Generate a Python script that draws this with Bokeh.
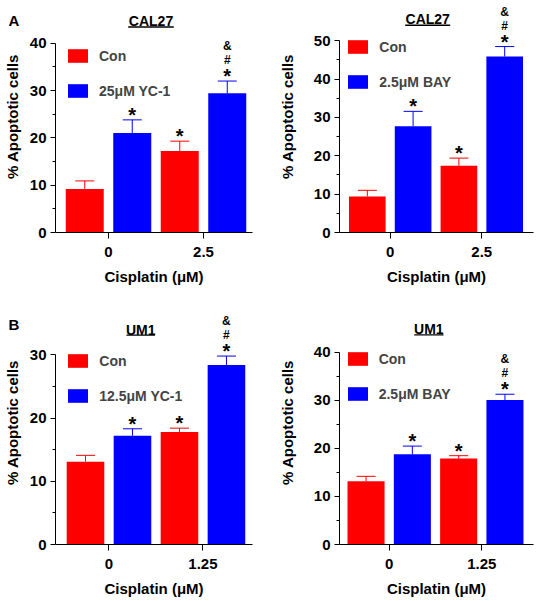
import numpy as np
from bokeh.plotting import figure
from bokeh.models import Range1d, FixedTicker, Label, Whisker, TeeHead, ColumnDataSource
from bokeh.layouts import gridplot
from bokeh.embed import file_html
from bokeh.resources import INLINE
from bokeh.core.properties import value

FONT = "Liberation Sans"
RED = "#FF0000"
BLUE = "#0000FF"

# ---------------- data ----------------
dose_cal = ["0", "2.5"]
dose_um = ["0", "1.25"]
x_title = "Cisplatin (μM)"
y_title = "% Apoptotic cells"

# A-left: CAL27 with YC-1
a1_con = [9.2, 17.2]
a1_con_sem = [1.7, 2.1]
a1_trt = [21.0, 29.4]
a1_trt_sem = [2.8, 2.6]
# A-right: CAL27 with BAY
a2_con = [9.4, 17.4]
a2_con_sem = [1.6, 2.0]
a2_trt = [27.7, 45.9]
a2_trt_sem = [3.9, 2.6]
# B-left: UM1 with YC-1
b1_con = [13.1, 17.8]
b1_con_sem = [1.0, 0.6]
b1_trt = [17.2, 28.4]
b1_trt_sem = [1.1, 1.4]
# B-right: UM1 with BAY
b2_con = [13.2, 17.9]
b2_con_sem = [1.0, 0.6]
b2_trt = [18.8, 30.1]
b2_trt_sem = [1.7, 1.2]

sig_con = ["", "*"]
sig_trt = ["*", "*"]
sig_hash = ["", "#"]
sig_amp = ["", "&"]


def gbold(size):
    return dict(text_font=value(FONT), text_font_style="bold", text_font_size=size)


def lbold(size):
    return dict(text_font=FONT, text_font_style="bold", text_font_size=size)


def make_panel(cell, letter, con, con_sem, trt, trt_sem, doses, trt_label,
               ymax, ystep, geo):
    ox, oy, W, H = geo["fig"]
    FL, FR, X0, PPUX, Y0, PPUY = geo["frame"]

    def dx(px):
        return (px - X0) / PPUX

    def dy(py):
        return (Y0 - py) / PPUY

    p = figure(width=W, height=H, output_backend="svg", toolbar_location=None,
               x_range=Range1d(dx(FL), dx(FR)), y_range=Range1d(0, dy(oy)),
               min_border_left=int(round(FL - ox)), min_border_right=int(round(ox + W - FR)),
               min_border_top=0, min_border_bottom=int(round(oy + H - Y0)))
    p.outline_line_color = None
    p.grid.visible = False
    p.background_fill_color = "white"
    p.border_fill_color = "white"

    idx = np.arange(len(doses))
    xc = idx - 0.25
    xt = idx + 0.25
    con_top = np.array(con) + np.array(con_sem)
    trt_top = np.array(trt) + np.array(trt_sem)
    src_c = ColumnDataSource(dict(x=xc, top=con, up=con_top, s=sig_con))
    src_t = ColumnDataSource(dict(x=xt, top=trt, up=trt_top, s=sig_trt, h=sig_hash, a=sig_amp))

    p.vbar(x="x", top="top", width=0.4, bottom=0, source=src_c, fill_color=RED,
           line_color=None, legend_label="Con")
    p.vbar(x="x", top="top", width=0.4, bottom=0, source=src_t, fill_color=BLUE,
           line_color=None, legend_label=trt_label)
    for src, col in ((src_c, RED), (src_t, BLUE)):
        w = Whisker(base="x", lower="top", upper="up", source=src, line_color=col, line_width=1,
                    upper_head=TeeHead(size=19, line_color=col, line_width=1), lower_head=None)
        p.add_layout(w)

    p.text(x="x", y="up", text="s", source=src_c, text_align="center", text_baseline="middle",
           y_offset=-5, text_color="black", **gbold("20px"))
    p.text(x="x", y="up", text="s", source=src_t, text_align="center", text_baseline="middle",
           y_offset=-5, text_color="black", **gbold("20px"))
    p.text(x="x", y="up", text="h", source=src_t, text_align="center", text_baseline="middle",
           y_offset=-21, text_color="black", **gbold("12px"))
    p.text(x="x", y="up", text="a", source=src_t, text_align="center", text_baseline="middle",
           y_offset=-35, text_color="black", **gbold("12px"))

    # legend
    lg = p.legend[0]
    vx, vy = geo["legend"]
    lg.location = (vx, vy)
    lg.padding = 0
    lg.margin = 0
    lg.spacing = 18
    lg.glyph_width = 25
    lg.glyph_height = 17
    lg.label_height = 17
    lg.label_standoff = 9
    lg.border_line_color = None
    lg.background_fill_alpha = 0
    lg.label_text_font = FONT
    lg.label_text_font_style = "bold"
    lg.label_text_font_size = "14px"

    # axes
    ya = p.yaxis[0]
    ya.bounds = (0, ymax)
    ya.ticker = FixedTicker(ticks=list(range(0, ymax + 1, ystep)),
                            minor_ticks=[v + ystep / 2 for v in range(0, ymax, ystep)])
    xa = p.xaxis[0]
    xa.bounds = (dx(FL), dx(FR))
    xa.ticker = FixedTicker(ticks=[int(i) for i in idx])
    xa.major_label_overrides = {int(i): d for i, d in zip(idx, doses)}
    for ax in (xa, ya):
        ax.axis_line_color = "black"
        ax.axis_line_width = 1
        ax.major_tick_line_color = "black"
        ax.minor_tick_line_color = "black"
        ax.major_tick_in = 0
        ax.minor_tick_in = 0
        ax.major_label_text_font = FONT
        ax.major_label_text_font_style = "bold"
        ax.major_label_text_font_size = "15px"
        ax.major_label_text_color = "black"
        ax.major_label_text_line_height = 1.0
        ax.axis_label_text_font = FONT
        ax.axis_label_text_font_style = "bold"
        ax.axis_label_text_font_size = "15px"
        ax.axis_label_text_color = "black"
        ax.axis_label_text_line_height = 1.0
    ya.major_tick_out = 5
    ya.minor_tick_out = 3
    ya.major_label_standoff = 4
    ya.axis_label = y_title
    ya.axis_label_standoff = geo["ylab"]
    xa.major_tick_out = 6
    xa.minor_tick_out = 0
    xa.major_label_standoff = 8
    xa.axis_label = x_title
    xa.axis_label_standoff = 8

    # cell title (underlined) and panel letter
    tcx, tcy, tl, tr, tuy = geo["title"]
    p.add_layout(Label(x=dx(tcx), y=dy(tcy), text=cell, text_align="center",
                       text_baseline="middle", text_color="black", **lbold("14px")))
    p.segment(x0=[dx(tl)], y0=[dy(tuy)], x1=[dx(tr)], y1=[dy(tuy)], line_color="black", line_width=1.3)
    if letter:
        lx, lcy = geo["letter"]
        p.add_layout(Label(x=lx - ox, y=lcy - oy, x_units="canvas", y_units="canvas",
                           text=letter, text_align="left",
                           text_baseline="middle", text_color="black", **lbold("15px")), "right")
    return p


geo1 = dict(fig=(0, 0, 268, 300), frame=(55, 252, 108, 95.0, 232, 4.7325), ylab=6,
            legend=(10, 132.7), title=(150.5, 20, 127.7, 173.3, 26.5), letter=(8, 20))
geo2 = dict(fig=(268, 0, 268, 300), frame=(339, 533, 389.7, 91.6, 234.3, 3.872), ylab=15,
            legend=(6.3, 141.6), title=(427.2, 18.7, 404.7, 449.7, 25))
geo3 = dict(fig=(0, 300, 268, 301), frame=(53, 253, 107.3, 95.4, 544, 6.323), ylab=6,
            legend=(10.3, 139.7), title=(139.5, 329.2, 125, 154, 334.7), letter=(8, 324.2))
geo4 = dict(fig=(268, 300, 268, 301), frame=(339, 533, 388.7, 92.6, 546, 4.84), ylab=15,
            legend=(5.7, 142), title=(428.3, 329.2, 413.7, 443, 334.7))

p1 = make_panel("CAL27", "A", a1_con, a1_con_sem, a1_trt, a1_trt_sem, dose_cal, "25μM YC-1", 40, 10, geo1)
p2 = make_panel("CAL27", None, a2_con, a2_con_sem, a2_trt, a2_trt_sem, dose_cal, "2.5μM BAY", 50, 10, geo2)
p3 = make_panel("UM1", "B", b1_con, b1_con_sem, b1_trt, b1_trt_sem, dose_um, "12.5μM YC-1", 30, 10, geo3)
p4 = make_panel("UM1", None, b2_con, b2_con_sem, b2_trt, b2_trt_sem, dose_um, "2.5μM BAY", 40, 10, geo4)

grid = gridplot([[p1, p2], [p3, p4]], toolbar_location=None)
open("out.html", "w").write(file_html(grid, INLINE))
